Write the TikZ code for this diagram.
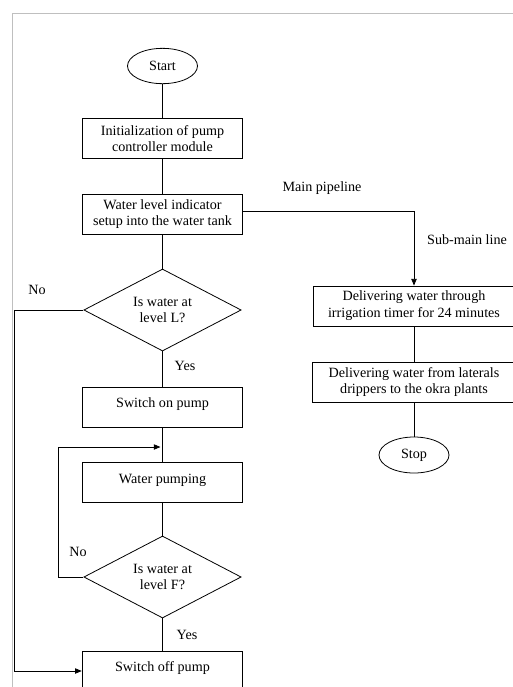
\documentclass[tikz,border=0pt]{standalone}
\usepackage{fontspec}
\setmainfont{Liberation Serif}
\usetikzlibrary{shapes.geometric, arrows.meta}

\begin{document}
\begin{tikzpicture}[x = 0.75pt, y = -0.75pt,
    font = \fontsize{10.6}{12.6}\selectfont,
    line width = 0.6pt,
    > = {Triangle[length = 5pt, width = 4pt]},
    flowbox/.style = {draw, rectangle, align = center, inner sep = 0pt,
        minimum width = 120.5pt, minimum height = 30pt},
    onebox/.style = {flowbox, text height = 7pt, text depth = 6pt},
    endcap/.style = {draw, ellipse, inner sep = 0pt,
        minimum width = 52.5pt, minimum height = 26.5pt},
    check/.style = {draw, diamond, align = center, inner sep = 0pt, aspect = 1.9,
        minimum width = 118pt, minimum height = 61.5pt},
    tag/.style = {inner sep = 0pt}]

% The page is cut like the scanned figure.
    \clip (0, 0) rectangle (513, 687);

% Grey frame of the figure.
    \draw [black!25, line width = 1.3pt] (12.5, 687) -- (12.5, 13.5) -- (513, 13.5);

% Pump side of the chart.
    \node [endcap] (start) at (162.5, 66) {Start};
    \node [flowbox] (init) at (162.5, 138.5) {Initialization of pump\\controller module};
    \node [flowbox] (level) at (162.5, 214) {Water level indicator\\setup into the water tank};
    \node [check] (checkL) at (162.5, 310) {Is water at\\level L?};
    \node [onebox] (switchon) at (162.5, 407) {Switch on pump};
    \node [onebox] (pumping) at (162.5, 482.5) {Water pumping};
    \node [check] (checkF) at (162.5, 577) {Is water at\\level F?};
    \node [onebox] (switchoff) at (162.5, 671) {Switch off pump};

% Irrigation side of the chart.
    \node [flowbox, minimum width = 151.5pt] (timer) at (414, 306) {Delivering water through\\irrigation timer for 24 minutes};
    \node [flowbox, minimum width = 153pt] (laterals) at (414, 382) {Delivering water from laterals\\drippers to the okra plants};
    \node [endcap, minimum height = 27pt] (stop) at (414, 455) {Stop};

% Labels on the lines.
    \node [tag] (lblmain) at (322, 188) {Main pipeline};
    \node [tag] (lblsub) at (467, 240) {Sub-main line};
    \node [tag] (lblnoL) at (37, 290) {No};
    \node [tag] (lblyesL) at (185, 366) {Yes};
    \node [tag] (lblnoF) at (78, 552) {No};
    \node [tag] (lblyesF) at (187, 635) {Yes};

% Straight lines down the middle.
    \draw (start) -- (init);
    \draw (init) -- (level);
    \draw (level) -- (checkL);
    \draw (checkL) -- (switchon);
    \draw (switchon) -- (pumping);
    \draw (pumping) -- (checkF);
    \draw (checkF) -- (switchoff);
    \draw (timer) -- (laterals);
    \draw (laterals) -- (stop);

% Branch lines with arrows.
    \draw [->] (level.2) -| (timer.north);
    \draw [->] (checkL.west) -- ++(-69, 0) |- (switchoff.west);
    \coordinate (loopin) at (160.5, 447);
    \draw [->] (checkF.west) -- ++(-25, 0) |- (loopin);

\end{tikzpicture}
\end{document}
